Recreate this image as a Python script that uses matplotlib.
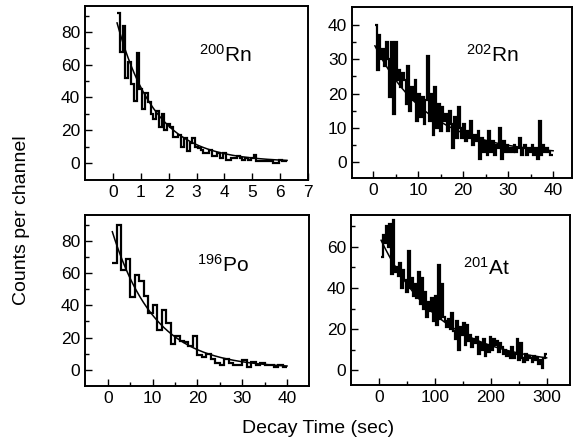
import numpy as np
import matplotlib
matplotlib.use("Agg")
import matplotlib.pyplot as plt
from matplotlib.ticker import FixedLocator

plt.rcParams['font.family'] = ['Liberation Sans', 'DejaVu Sans']
plt.rcParams['mathtext.fontset'] = 'custom'
plt.rcParams['mathtext.rm'] = 'Liberation Sans'
plt.rcParams['mathtext.default'] = 'regular'

# ---------------- data ----------------
# 200Rn : bins of 0.1 s starting at 0.15 s
rn200_start, rn200_width = 0.15, 0.1
rn200_counts = [92, 68, 84, 52, 62, 48, 38, 67, 45, 33, 43, 37, 30, 27, 32, 22, 30, 20,
                24, 22, 16, 16, 17, 10, 15, 7, 12, 15, 10, 9, 8, 6, 6, 8, 4, 4, 6, 3, 6,
                2, 2, 3, 3, 4, 3, 2, 3, 2, 3, 5, 1, 1, 1, 1, 1, 1, 0, 0, 2, 1, 1]
rn200_fit = [95.0, 0.95, 0.5]      # amplitude, half-life (s), background
rn200_xticks = [0, 1, 2, 3, 4, 5, 6, 7]
rn200_yticks = [0, 20, 40, 60, 80]

# 202Rn : bins of 0.4 s starting at 0.4 s
rn202_start, rn202_width = 0.4, 0.4
rn202_counts = [40, 27, 37, 30, 33, 28, 35, 30, 19, 35, 14, 35, 24, 27, 22, 26, 24, 17,
                28, 15, 22, 18, 24, 12, 20, 13, 19, 11, 18, 31, 12, 20, 8, 22, 10, 17,
                9, 16, 12, 14, 9, 15, 11, 4, 13, 7, 16, 10, 7, 11, 6, 9, 7, 12, 5, 8,
                6, 9, 1, 7, 3, 6, 2, 9, 3, 6, 2, 5, 4, 10, 1, 6, 3, 5, 3, 4, 3, 5, 3,
                4, 7, 2, 4, 5, 2, 4, 3, 5, 2, 4, 1, 12, 2, 5, 3, 4, 3, 2, 2]
rn202_fit = [33.0, 8.5, 2.0]
rn202_xticks = [0, 10, 20, 30, 40]
rn202_yticks = [0, 10, 20, 30, 40]

# 196Po : bins of 1 s starting at 1 s
po196_start, po196_width = 1.0, 1.0
po196_counts = [66, 90, 62, 69, 45, 59, 55, 46, 35, 40, 25, 37, 29, 16, 21, 18, 17, 15,
                21, 9, 8, 10, 7, 4, 3, 7, 4, 3, 3, 6, 2, 5, 3, 4, 3, 3, 2, 3, 2]
po196_fit = [94.0, 6.6, 1.0]
po196_xticks = [0, 10, 20, 30, 40]
po196_yticks = [0, 20, 40, 60, 80]

# 201At : bins of 3 s starting at 3 s
at201_start, at201_width = 3.0, 3.0
at201_counts = [55, 66, 62, 70, 60, 71, 47, 73, 48, 50, 46, 52, 40, 49, 44, 38, 58, 40,
                45, 36, 42, 35, 48, 32, 45, 30, 38, 26, 33, 29, 35, 24, 36, 22, 51, 25,
                42, 26, 24, 21, 25, 20, 28, 19, 15, 24, 10, 21, 17, 23, 12, 22, 14, 17,
                11, 15, 13, 16, 8, 13, 10, 15, 7, 12, 9, 16, 10, 15, 12, 14, 9, 13, 11,
                8, 10, 7, 9, 6, 11, 6, 8, 15, 5, 13, 6, 4, 8, 5, 7, 6, 4, 7, 5, 6, 3,
                5, 1, 6, 8]
at201_fit = [63.0, 75.0, 2.0]
at201_xticks = [0, 100, 200, 300]
at201_yticks = [0, 20, 40, 60]

labels = [r'$^{200}$Rn', r'$^{202}$Rn', r'$^{196}$Po', r'$^{201}$At']

# ---------------- figure ----------------
W, H = 577, 440
fig = plt.figure(figsize=(W / 100, H / 100), dpi=100)


def px_axes(l, t, r, b):
    return fig.add_axes([l / W, 1 - b / H, (r - l) / W, (b - t) / H])


def minor_between(ticks):
    return [(a + b) / 2 for a, b in zip(ticks[:-1], ticks[1:])]


panels = [
    dict(box=(85, 6, 308, 180), start=rn200_start, width=rn200_width, counts=rn200_counts,
         fit=rn200_fit, xlim=(-1.0, 7.0), ylim=(-10.5, 96), xt=rn200_xticks, xminor=False,
         yt=rn200_yticks, ymextra=[90], lab=(0.51, 0.72)),
    dict(box=(352, 7, 572, 178), start=rn202_start, width=rn202_width, counts=rn202_counts,
         fit=rn202_fit, xlim=(-4.7, 44.2), ylim=(-4.7, 45.3), xt=rn202_xticks, xminor=True,
         yt=rn202_yticks, ymextra=[], lab=(0.52, 0.72)),
    dict(box=(85, 215, 309, 386), start=po196_start, width=po196_width, counts=po196_counts,
         fit=po196_fit, xlim=(-5.1, 44.9), ylim=(-10.0, 96), xt=po196_xticks, xminor=True,
         yt=po196_yticks, ymextra=[90], lab=(0.50, 0.71)),
    dict(box=(351, 215, 570, 385), start=at201_start, width=at201_width, counts=at201_counts,
         fit=at201_fit, xlim=(-51, 342), ylim=(-7.3, 75.6), xt=at201_xticks, xminor=True,
         yt=at201_yticks, ymextra=[70], lab=(0.51, 0.69)),
]

for p, lab in zip(panels, labels):
    ax = px_axes(*p['box'])
    counts = np.array(p['counts'], dtype=float)
    edges = p['start'] + p['width'] * np.arange(len(counts) + 1)
    ax.stairs(counts, edges, color='black', linewidth=1.6, baseline=None)
    A, T, B = p['fit']
    t = np.linspace(edges[0], edges[-1], 300)
    ax.plot(t, A * np.exp(-t * np.log(2) / T) + B, color='black', linewidth=1.1)
    ax.set_xlim(*p['xlim'])
    ax.set_ylim(*p['ylim'])
    ax.xaxis.set_major_locator(FixedLocator(p['xt']))
    if p['xminor']:
        ax.xaxis.set_minor_locator(FixedLocator(minor_between(p['xt'])))
    ax.yaxis.set_major_locator(FixedLocator(p['yt']))
    ax.yaxis.set_minor_locator(FixedLocator(minor_between(p['yt']) + p['ymextra']))
    ax.tick_params(which='both', direction='in', top=False, right=False,
                   width=1.0, labelsize=12.5)
    ax.tick_params(which='major', length=5)
    ax.tick_params(which='minor', length=3)
    for sp in ax.spines.values():
        sp.set_linewidth(1.4)
    ax.text(p['lab'][0], p['lab'][1], lab, transform=ax.transAxes,
            fontsize=15, ha='left', va='center')

fig.text(22 / W, 0.5, 'Counts per channel', rotation=90, ha='center', va='center',
         fontsize=14)
fig.text(318 / W, 1 - 428 / H, 'Decay Time (sec)', ha='center', va='center',
         fontsize=14)

fig.savefig('out.png', dpi=100)
